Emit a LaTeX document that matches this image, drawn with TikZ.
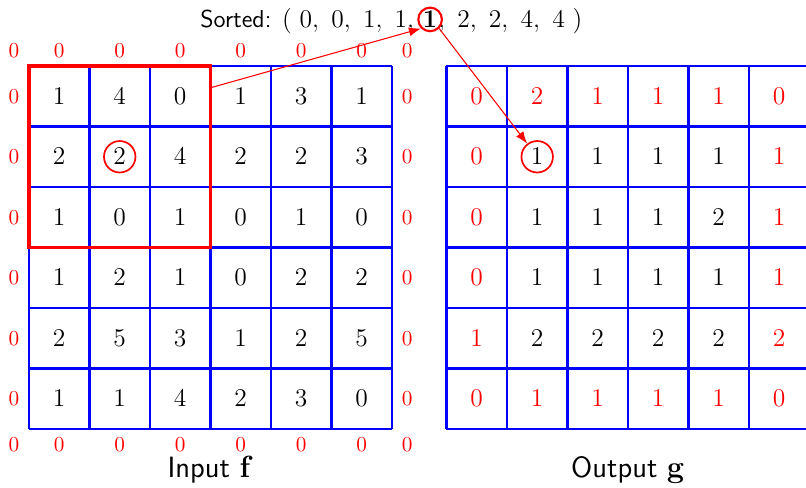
\documentclass[tikz,border=0pt]{standalone}
\usetikzlibrary{arrows.meta}
\colorlet{R}{red}
\colorlet{K}{black}
\begin{document}
\begin{tikzpicture}[x=1cm,y=-1cm,
  every node/.style={font=\fontsize{11.5}{13.8}\selectfont},
  gridline/.style={blue,line width=1.1pt},
  boxline/.style={red,line width=1.8pt},
  pad/.style={text=red,font=\fontsize{10.35}{12.4}\selectfont},
  circ/.style={draw=red,circle,line width=0.8pt,inner sep=0pt,minimum size=0.52cm},
  scirc/.style={draw=red,circle,line width=1pt,inner sep=0pt,minimum size=0.39cm},
  arr/.style={red,line width=0.5pt,-{Latex[length=2mm,width=1.5mm]}},
  caption/.style={font=\fontsize{13.8}{16.5}\selectfont\sffamily}]
\useasboundingbox (-0.479,-1.091) rectangle (12.843,6.959);
\clip (-0.479,-1.091) rectangle (12.843,6.959);

% input grid f
\foreach \i in {0,...,6} {
  \draw[gridline] (\i,0) -- (\i,6);
  \draw[gridline] (0,\i) -- (6,\i);
}
% output grid g
\foreach \i in {0,...,6} {
  \draw[gridline] (6.9+\i,0) -- (6.9+\i,6);
  \draw[gridline] (6.9,\i) -- (12.9,\i);
}

% input values
\foreach \row [count=\r from 0] in
  {{1,4,0,1,3,1},{2,2,4,2,2,3},{1,0,1,0,1,0},{1,2,1,0,2,2},{2,5,3,1,2,5},{1,1,4,2,3,0}}
  \foreach \v [count=\c from 0] in \row
    \node (f-\r-\c) at (\c+0.5,\r+0.5) {$\v$};

% zero padding round the input
\foreach \x in {-0.25,0.5,1.5,2.5,3.5,4.5,5.5,6.25} {
  \node[pad] (pt-\x) at (\x,-0.25) {$0$};
  \node[pad] (pb-\x) at (\x,6.25) {$0$};
}
\foreach \y in {0.5,1.5,2.5,3.5,4.5,5.5} {
  \node[pad] (pl-\y) at (-0.25,\y) {$0$};
  \node[pad] (pr-\y) at (6.25,\y) {$0$};
}

% output values (red: border cells)
\foreach \row [count=\r from 0] in
  {{R/0,R/2,R/1,R/1,R/1,R/0},
   {R/0,K/1,K/1,K/1,K/1,R/1},
   {R/0,K/1,K/1,K/1,K/2,R/1},
   {R/0,K/1,K/1,K/1,K/1,R/1},
   {R/1,K/2,K/2,K/2,K/2,R/2},
   {R/0,R/1,R/1,R/1,R/1,R/0}}
  \foreach \k/\v [count=\c from 0] in \row
    \node[text=\k] (g-\r-\c) at (7.4+\c,\r+0.5) {$\v$};

% 3x3 window and its centre
\draw[boxline] (0,0) rectangle (3,3);
\node[circ] (fc) at (f-1-1) {};
\node[circ] (gc) at (g-1-1) {};

% sorted window values, median circled
\node[inner sep=0pt] (med) at (6.63,-0.77) {$\mathbf{1}$};
\node[anchor=base east,inner sep=0pt] (sl) at (med.base west)
  {\sffamily Sorted: \normalfont$(\ 0,\ 0,\ 1,\ 1,\ $};
\node[anchor=base west,inner sep=0pt] (sr) at (med.base east)
  {$,\ 2,\ 2,\ 4,\ 4\ )$};
\node[scirc] (medc) at (med) {};

\coordinate (win) at (3,0.36);
\draw[arr] (win) -- (medc.south west);
\draw[arr] (medc.south east) -- (gc);

% captions
\node[caption] (cf) at (3,6.68) {Input $\mathbf{f}$};
\node[caption] (cg) at (9.9,6.68) {Output $\mathbf{g}$};
\end{tikzpicture}
\end{document}
